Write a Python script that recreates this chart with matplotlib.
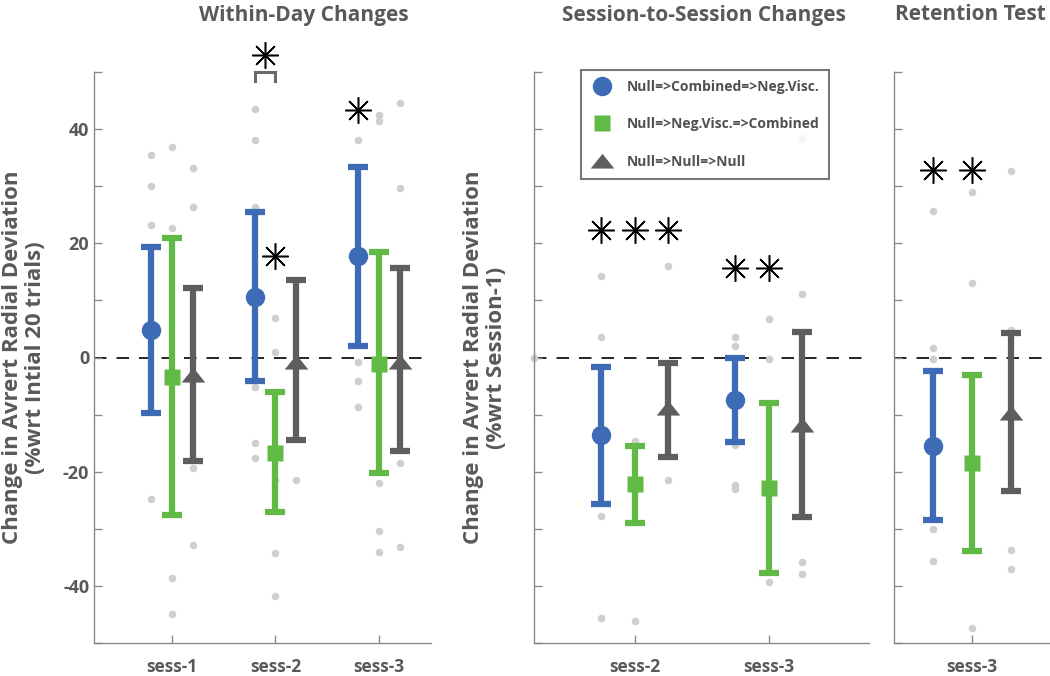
import matplotlib
matplotlib.use("Agg")
import matplotlib.pyplot as plt
from matplotlib.lines import Line2D

plt.rcParams['font.family'] = ['Open Sans', 'DejaVu Sans']

# ---- data ----
within_labels = ['sess-1', 'sess-2', 'sess-3']
within_pos = [1, 2, 3]
within_blue_mean = [4.9, 10.6, 17.7]
within_blue_lo = [-9.7, -4.2, 2.1]
within_blue_hi = [19.4, 25.4, 33.3]
within_green_mean = [-3.5, -16.7, -1.2]
within_green_lo = [-27.6, -27.1, -20.3]
within_green_hi = [20.9, -6.0, 18.4]
within_gray_mean = [-3.0, -0.8, -0.8]
within_gray_lo = [-18.2, -14.4, -16.4]
within_gray_hi = [12.2, 13.5, 15.6]
within_blue_dots = [[35.5, 30.0, 23.2, -24.7],
                    [43.6, 38.1, 26.3, -5.2, -15.0, -17.6],
                    [38.1, -0.8, -4.2, -8.6]]
within_green_dots = [[36.9, 22.7, -38.6, -45.0],
                     [6.9, 0.9, -21.5, -34.2, -41.8],
                     [42.4, 41.4, -21.9, -30.3, -34.0]]
within_gray_dots = [[33.1, 26.4, -19.3, -32.9],
                    [-21.5],
                    [44.6, 29.7, -18.4, -33.2]]

session_labels = ['sess-2', 'sess-3']
session_pos = [2, 3]
session_blue_mean = [-13.6, -7.5]
session_blue_lo = [-25.6, -14.8]
session_blue_hi = [-1.6, 0.0]
session_green_mean = [-22.2, -22.9]
session_green_lo = [-28.9, -37.7]
session_green_hi = [-15.5, -8.0]
session_gray_mean = [-8.8, -11.9]
session_gray_lo = [-17.4, -27.9]
session_gray_hi = [-0.9, 4.4]
session_blue_dots = [[14.2, 3.6, -27.8, -45.6], [3.6, 2.1, -15.3, -22.3, -23.0]]
session_green_dots = [[-14.6, -46.1], [6.7, -0.2, -39.4]]
session_gray_dots = [[16.1, -21.5], [38.4, 11.1, -35.9, -38.0]]

retention_labels = ['sess-3']
retention_pos = [3]
retention_blue_mean = [-15.5]
retention_blue_lo = [-28.5]
retention_blue_hi = [-2.3]
retention_green_mean = [-18.4]
retention_green_lo = [-33.9]
retention_green_hi = [-3.0]
retention_gray_mean = [-9.8]
retention_gray_lo = [-23.4]
retention_gray_hi = [4.3]
retention_blue_dots = [[25.7, 1.6, -0.3, -30.0, -35.7]]
retention_green_dots = [[29.0, 13.1, -47.3]]
retention_gray_dots = [[32.7, 4.9, -33.7, -37.1]]

group_names = ['Null=>Combined=>Neg.Visc.', 'Null=>Neg.Visc.=>Combined', 'Null=>Null=>Null']

BLUE = '#3D6BB6'
GREEN = '#62BA46'
GRAY = '#5E5E5E'
DOT = '#CFCFCF'
TXT = '#595959'
SPINE = '#8A8A8A'
TRI = [(-1, -0.6), (1, -0.6), (0, 0.65)]
ASTER = (8, 2, 0)


def draw_panel(ax, pos, off, groups, ticklabels, xlim):
    # groups: list of (mean, lo, hi, dots, color, marker, msize)
    ax.axhline(0, color='black', lw=1.2, ls=(0, (7.5, 6)), zorder=1)
    for k, (mean, lo, hi, dots, color, marker, ms) in enumerate(groups):
        xs = [p + off[k] for p in pos]
        for x, d in zip(xs, dots):
            ax.plot([x] * len(d), d, 'o', color=DOT, ms=5.5, mec='none', zorder=2)
        yerr = [[m - l for m, l in zip(mean, lo)], [h - m for m, h in zip(mean, hi)]]
        ax.errorbar(xs, mean, yerr=yerr, fmt='none', ecolor=color, elinewidth=4.5,
                    capsize=7.5, capthick=4.5, zorder=3)
        ax.plot(xs, mean, ls='none', marker=marker, color=color, ms=ms, mec='none', zorder=4)
    ax.set_xlim(*xlim)
    ax.set_ylim(-50, 50)
    ax.set_xticks(pos)
    ax.set_xticklabels(ticklabels, fontsize=12.5, fontweight='bold', color=TXT)
    ax.set_yticks(range(-50, 51, 10))
    ax.tick_params(direction='in', length=6, width=1, colors=SPINE, labelcolor=TXT)
    ax.tick_params(axis='x', pad=11)
    for s in ['top', 'right']:
        ax.spines[s].set_visible(False)
    for s in ['left', 'bottom']:
        ax.spines[s].set_color(SPINE)
        ax.spines[s].set_linewidth(1)
    ax.set_facecolor('none')


fig = plt.figure(figsize=(10.5, 6.76), dpi=100)
H = 676.0
W = 1050.0
bot = (676 - 643) / H
hgt = 571 / H
ax1 = fig.add_axes([94 / W, bot, 337 / W, hgt])
ax2 = fig.add_axes([534 / W, bot, 335 / W, hgt])
ax3 = fig.add_axes([894 / W, bot, 172 / W, hgt])

draw_panel(ax1, within_pos, [-0.2, 0, 0.2],
           [(within_blue_mean, within_blue_lo, within_blue_hi, within_blue_dots, BLUE, 'o', 14),
            (within_green_mean, within_green_lo, within_green_hi, within_green_dots, GREEN, 's', 12),
            (within_gray_mean, within_gray_lo, within_gray_hi, within_gray_dots, GRAY, TRI, 17)],
           within_labels, (0.25, 3.5))
draw_panel(ax2, session_pos, [-0.25, 0, 0.25],
           [(session_blue_mean, session_blue_lo, session_blue_hi, session_blue_dots, BLUE, 'o', 14),
            (session_green_mean, session_green_lo, session_green_hi, session_green_dots, GREEN, 's', 12),
            (session_gray_mean, session_gray_lo, session_gray_hi, session_gray_dots, GRAY, TRI, 17)],
           session_labels, (1.25, 3.75))
draw_panel(ax3, retention_pos, [-0.25, 0, 0.25],
           [(retention_blue_mean, retention_blue_lo, retention_blue_hi, retention_blue_dots, BLUE, 'o', 14),
            (retention_green_mean, retention_green_lo, retention_green_hi, retention_green_dots, GREEN, 's', 12),
            (retention_gray_mean, retention_gray_lo, retention_gray_hi, retention_gray_dots, GRAY, TRI, 17)],
           retention_labels, (2.5, 3.6))

# stray dot sitting on the left spine of the middle panel
ax2.plot([1.25], [0], 'o', color=DOT, ms=5.5, mec='none', zorder=2, clip_on=False)

ax1.set_yticklabels(['', '-40', '', '-20', '', '0', '', '20', '', '40', ''],
                    fontsize=13, fontweight='bold')
ax2.set_yticklabels([])
ax3.set_yticklabels([])

ax1.set_ylabel('Change in Avrert Radial Deviation\n(%wrt Intial 20 trials)',
               fontsize=16, fontweight='bold', color=TXT, linespacing=1.15, labelpad=12)
ax2.set_ylabel('Change in Avrert Radial Deviation\n(%wrt Session-1)',
               fontsize=16, fontweight='bold', color=TXT, linespacing=1.15, labelpad=16)

# significance markers
ast = dict(marker=ASTER, color='black', ms=19, mew=1.1, ls='none', clip_on=False, zorder=5)
ax1.plot([2.0], [17.7], **ast)
ax1.plot([2.8], [43.4], **ast)
ax1.plot([1.9], [53.0], **ast)
ax1.plot([1.8, 1.8, 2.0, 2.0], [48.5, 50.0, 50.0, 48.5], color='#6A6A6A', lw=2.2,
         clip_on=False, zorder=5, solid_joinstyle='miter')
ax2.plot([1.75, 2.0, 2.25], [22.3] * 3, **ast)
ax2.plot([2.75, 3.0], [15.6] * 2, **ast)
ax3.plot([2.75, 3.0], [32.9] * 2, **ast)

# titles
tkw = dict(fontsize=15, fontweight='bold', color=TXT, ha='center', va='center')
fig.text(304 / W, 1 - 15 / H, 'Within-Day Changes', **tkw)
fig.text(704 / W, 1 - 15 / H, 'Session-to-Session Changes', **tkw)
fig.text(1046 / W, 1 - 15 / H, 'Retention Test', **dict(tkw, ha='right'))

# legend
handles = [Line2D([], [], ls='none', marker='o', color=BLUE, ms=14, mec='none'),
           Line2D([], [], ls='none', marker='s', color=GREEN, ms=12, mec='none'),
           Line2D([], [], ls='none', marker=TRI, color=GRAY, ms=17, mec='none')]
leg = ax2.legend(handles, group_names, loc='upper left',
                 bbox_to_anchor=(581 / W, 1 - 70 / H), bbox_transform=fig.transFigure,
                 prop=dict(size=10, weight='bold'), labelcolor='#505050',
                 frameon=True, fancybox=False, borderpad=0.7, handlelength=1.6,
                 handletextpad=1.0, labelspacing=1.7, borderaxespad=0)
leg.get_frame().set_edgecolor('#555555')
leg.get_frame().set_linewidth(1.5)
leg.set_zorder(10)

fig.savefig('out.png', dpi=100)
